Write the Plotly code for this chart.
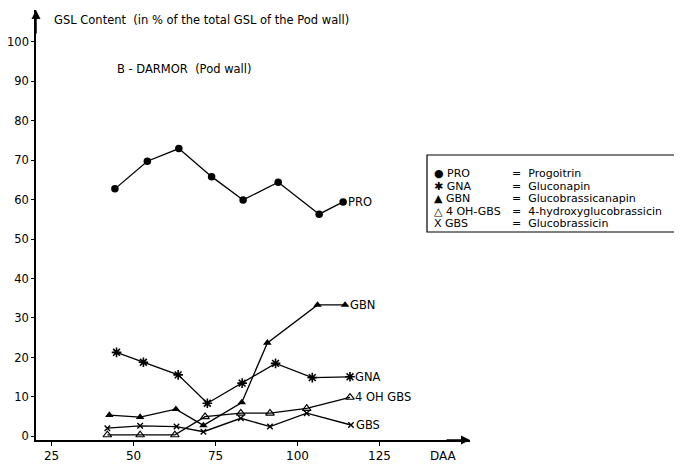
import plotly.graph_objects as go

# ---- data ----
pro_x = [44.3, 54.2, 63.8, 73.8, 83.4, 94.1, 106.6, 113.9]
pro_y = [62.7, 69.7, 72.9, 65.8, 59.9, 64.4, 56.3, 59.4]

gna_x = [44.8, 53.0, 63.6, 72.5, 83.1, 93.3, 104.5, 116.0]
gna_y = [21.3, 18.8, 15.6, 8.4, 13.5, 18.5, 14.9, 15.1]

gbn_x = [42.6, 52.0, 62.9, 71.3, 83.0, 90.8, 106.1, 114.5]
gbn_y = [5.4, 4.9, 6.9, 2.8, 8.6, 23.7, 33.3, 33.3]

ohgbs_x = [42.0, 52.0, 62.6, 71.8, 82.7, 91.6, 102.8, 116.0]
ohgbs_y = [0.4, 0.4, 0.4, 5.0, 5.9, 5.9, 7.1, 9.9]

gbs_x = [42.0, 52.0, 63.1, 71.3, 82.7, 91.6, 102.8, 116.3]
gbs_y = [2.1, 2.7, 2.5, 1.2, 4.6, 2.5, 5.9, 2.9]

series_names = ["PRO", "GNA", "GBN", "4 OH GBS", "GBS"]
x_ticks = [25, 50, 75, 100, 125]
y_ticks = [0, 10, 20, 30, 40, 50, 60, 70, 80, 90, 100]

legend_abbr = ["● PRO", "✱ GNA", "▲ GBN", "△ 4 OH-GBS", "X GBS"]
legend_full = ["Progoitrin", "Gluconapin", "Glucobrassicanapin",
               "4-hydroxyglucobrassicin", "Glucobrassicin"]

FONT = "DejaVu Sans"
OFF = 8  # page body margin offset
W, H = 682 - OFF, 464 - OFF
L, R, T, B = 28, 212, 2, 24
PW, PH = W - L - R, H - T - B


def px(xp):
    # viewport pixel x -> paper
    return (xp - OFF - L) / PW


def py(yp):
    # viewport pixel y -> paper
    return (H - B - (yp - OFF)) / PH


fig = go.Figure()

specs = [
    (pro_x, pro_y, dict(symbol="circle", size=7.5, color="black")),
    (gna_x, gna_y, dict(symbol="asterisk-open", size=8, color="black",
                        line=dict(color="black", width=1.6))),
    (gbn_x, gbn_y, dict(symbol="triangle-up", size=7.5, color="black")),
    (ohgbs_x, ohgbs_y, dict(symbol="triangle-up-open", size=7.5, color="black",
                            line=dict(color="black", width=1.2))),
    (gbs_x, gbs_y, dict(symbol="x-thin-open", size=5.5, color="black",
                        line=dict(color="black", width=1.4))),
]
for (xs, ys, mk), name in zip(specs, series_names):
    fig.add_trace(go.Scatter(x=xs, y=ys, mode="lines+markers", name=name,
                             line=dict(color="black", width=1.3),
                             marker=mk, showlegend=False))
    fig.add_annotation(x=xs[-1], y=ys[-1], text=name, showarrow=False,
                       xanchor="left", yanchor="middle", xshift=4,
                       borderpad=0,
                       font=dict(family=FONT, size=11.5, color="black"))

# titles
fig.add_annotation(xref="paper", yref="paper", x=px(52), y=py(20),
                   text="GSL Content  (in % of the total GSL of the Pod wall)",
                   showarrow=False, xanchor="left", yanchor="middle",
                   font=dict(family=FONT, size=11.5, color="black"))
fig.add_annotation(xref="paper", yref="paper", x=px(115), y=py(69),
                   text="B - DARMOR  (Pod wall)",
                   showarrow=False, xanchor="left", yanchor="middle",
                   font=dict(family=FONT, size=11.5, color="black"))
fig.add_annotation(xref="paper", yref="paper", x=px(428), y=py(456),
                   text="DAA", showarrow=False, xanchor="left", yanchor="middle",
                   font=dict(family=FONT, size=12, color="black"))

# axis arrows
fig.add_annotation(xref="paper", yref="paper", x=0, y=1, ax=0, ay=25,
                   showarrow=True, arrowhead=2, arrowsize=1.2, arrowwidth=1.5,
                   arrowcolor="black", text="")
fig.add_annotation(xref="paper", yref="paper", x=1, y=0, ax=-25, ay=0,
                   showarrow=True, arrowhead=2, arrowsize=1.2, arrowwidth=1.5,
                   arrowcolor="black", text="")

# legend box
fig.add_shape(type="rect", xref="paper", yref="paper",
              x0=px(427), x1=px(679), y0=py(232), y1=py(155),
              line=dict(color="black", width=1.2), fillcolor="white")
row_y = [173, 186, 198.5, 211, 223]
for ab, full, ry in zip(legend_abbr, legend_full, row_y):
    fig.add_annotation(xref="paper", yref="paper", x=px(433), y=py(ry),
                       text=ab, showarrow=False, xanchor="left", yanchor="middle",
                       borderpad=0,
                       font=dict(family=FONT, size=11, color="black"))
    fig.add_annotation(xref="paper", yref="paper", x=px(511), y=py(ry),
                       text="=  " + full, showarrow=False, xanchor="left",
                       yanchor="middle", borderpad=0,
                       font=dict(family=FONT, size=11, color="black"))

fig.update_xaxes(range=[20.24, 152.6], tickvals=x_ticks,
                 ticktext=[str(v) for v in x_ticks],
                 showline=True, linecolor="black", linewidth=1.5,
                 ticks="outside", ticklen=4, tickcolor="black", tickwidth=1,
                 showgrid=False, zeroline=False, automargin=False,
                 tickfont=dict(family=FONT, size=12, color="black"))
fig.update_yaxes(range=[-0.9, 108.0], tickvals=y_ticks,
                 ticktext=[str(v) for v in y_ticks],
                 showline=True, linecolor="black", linewidth=1.5,
                 ticks="outside", ticklen=3, tickcolor="black", tickwidth=1,
                 showgrid=False, zeroline=False, automargin=False,
                 tickfont=dict(family=FONT, size=11.5, color="black"))

fig.update_layout(width=W, height=H,
                  margin=dict(l=L, r=R, t=T, b=B, pad=0),
                  paper_bgcolor="white", plot_bgcolor="white",
                  font=dict(family=FONT, color="black"))

fig.write_html("out.html")
